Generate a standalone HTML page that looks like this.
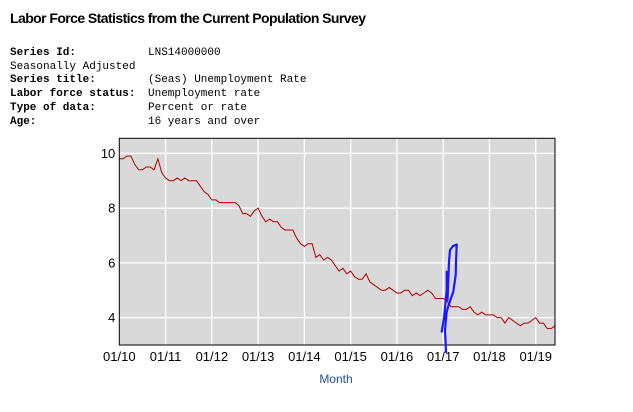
<!DOCTYPE html>
<html><head><meta charset="utf-8"><style>
html,body{margin:0;padding:0;background:#fff;width:633px;height:412px;overflow:hidden}
svg{display:block}
</style></head><body>
<svg id="c" width="633" height="412" xmlns="http://www.w3.org/2000/svg">
<text x="10" y="23" font-family="Liberation Sans, sans-serif" font-weight="bold" font-size="14" textLength="356" fill="#000">Labor Force Statistics from the Current Population Survey</text>
<g font-family="Liberation Mono, monospace" font-size="11" fill="#000">
<text x="10" y="55" font-weight="bold">Series Id:</text>
<text x="148" y="55">LNS14000000</text>
<text x="10" y="69">Seasonally Adjusted</text>
<text x="10" y="82" font-weight="bold">Series title:</text>
<text x="148" y="82">(Seas) Unemployment Rate</text>
<text x="10" y="96" font-weight="bold">Labor force status:</text>
<text x="148" y="96">Unemployment rate</text>
<text x="10" y="110" font-weight="bold">Type of data:</text>
<text x="148" y="110">Percent or rate</text>
<text x="10" y="124" font-weight="bold">Age:</text>
<text x="148" y="124">16 years and over</text>
</g>
<g id="plot"></g>
<path d="M441.7,331.7 L444,318 L446.7,290 L446.7,271.7 L447.5,300 L449,262 L450,250 L453,246 L456.7,244.5 L456,262 L455.7,275 L453.3,291.7 L449,304 L446.7,311.7 L445,330 L446,352" fill="none" stroke="#1a1aff" stroke-width="2.2" stroke-linecap="round" stroke-linejoin="round"/>
</svg>
<script>
const yTicks=[4,6,8,10];
const xLabels=["01/10","01/11","01/12","01/13","01/14","01/15","01/16","01/17","01/18","01/19"];
const rates=[9.8,9.8,9.9,9.9,9.6,9.4,9.4,9.5,9.5,9.4,9.8,9.3,
9.1,9.0,9.0,9.1,9.0,9.1,9.0,9.0,9.0,8.8,8.6,8.5,
8.3,8.3,8.2,8.2,8.2,8.2,8.2,8.1,7.8,7.8,7.7,7.9,
8.0,7.7,7.5,7.6,7.5,7.5,7.3,7.2,7.2,7.2,6.9,6.7,
6.6,6.7,6.7,6.2,6.3,6.1,6.2,6.1,5.9,5.7,5.8,5.6,
5.7,5.5,5.4,5.4,5.6,5.3,5.2,5.1,5.0,5.0,5.1,5.0,
4.9,4.9,5.0,5.0,4.8,4.9,4.8,4.9,5.0,4.9,4.7,4.7,
4.7,4.6,4.4,4.4,4.4,4.3,4.3,4.4,4.2,4.1,4.2,4.1,
4.1,4.1,4.0,4.0,3.8,4.0,3.9,3.8,3.7,3.8,3.8,3.9,
4.0,3.8,3.8,3.6,3.6,3.7];
const NS="http://www.w3.org/2000/svg";
const L=119.3,R=555,T=138.3,B=345,yMin=3,yMax=10.55,nMonths=113;
const xs=i=>L+(R-L)*i/nMonths;
const ys=v=>B-(B-T)*(v-yMin)/(yMax-yMin);
const g=document.getElementById('plot');
function mk(t,a){const e=document.createElementNS(NS,t);for(const k in a)e.setAttribute(k,a[k]);g.appendChild(e);return e;}
let e=mk('rect',{x:L,y:T,width:R-L,height:B-T,fill:'#d9d9d9'});


yTicks.forEach(v=>{
 const l=mk('line',{x1:L,x2:R,y1:ys(v),y2:ys(v),stroke:'#fff','stroke-width':1.3});
 
 
 const t=mk('text',{x:L-4,y:ys(v)+4.5,'text-anchor':'end','font-family':'Liberation Sans, sans-serif','font-size':13,fill:'#000'});
 t.textContent=v;
 
 
});
xLabels.forEach((lab,i)=>{
 const x=xs(i*12);
 if(i>0){const l=mk('line',{x1:x,x2:x,y1:T,y2:B,stroke:'#fff','stroke-width':1.3});
 
 }
 const t=mk('text',{x:x,y:B+16,'text-anchor':'middle','font-family':'Liberation Sans, sans-serif','font-size':13,fill:'#000'});
 t.textContent=lab;
 
 
});
const p=mk('polyline',{points:rates.map((v,i)=>xs(i).toFixed(1)+','+ys(v).toFixed(1)).join(' '),fill:'none',stroke:'#b00000','stroke-width':1});


const f=mk('rect',{x:L,y:T,width:R-L,height:B-T,fill:'none',stroke:'#000','stroke-width':1});


const xt=mk('text',{x:336,y:383,'text-anchor':'middle','font-family':'Liberation Sans, sans-serif','font-size':12,fill:'#1f4e8c'});
xt.textContent='Month';


</script>
</body></html>
